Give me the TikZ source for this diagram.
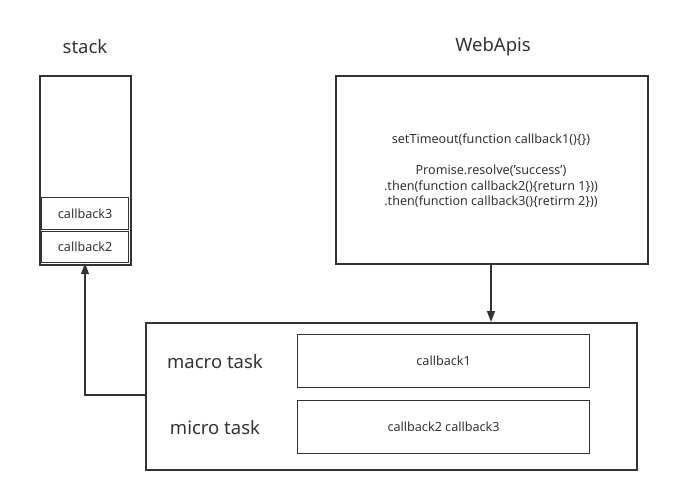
\documentclass[tikz,border=0pt]{standalone}
\usepackage{fontspec}
\setmainfont{Noto Sans}
\usetikzlibrary{arrows.meta}
\definecolor{ink}{HTML}{333333}
\begin{document}
\begin{tikzpicture}[x=1pt,y=-1pt,
  box/.style={draw=ink,line width=1.6pt,inner sep=0pt,anchor=north west},
  ibox/.style={draw=ink,line width=1.2pt,inner sep=0pt,anchor=north west},
  big/.style={text=ink,font=\fontsize{18.5}{22}\selectfont},
  small/.style={text=ink,font=\fontsize{12.6}{15.5}\selectfont},
  arr/.style={draw=ink,line width=1.4pt,-{Triangle[length=11pt,width=8pt]}}]
\useasboundingbox (0,0) rectangle (675,493);
% stack
\node[big] (stacklbl) at (85,47) {stack};
\node[box,minimum width=91pt,minimum height=189pt] (stack) at (39,75) {};
\node[ibox,minimum width=87pt,minimum height=32pt,small] (cb3) at (41,197) {callback3};
\node[ibox,minimum width=87pt,minimum height=31pt,small] (cb2) at (41,231) {callback2};
% webapis
\node[big] (weblbl) at (493,47) {WebApis};
\node[box,minimum width=312pt,minimum height=188pt] (web) at (335,75) {};
\node[small,align=center] (webtxt) at (491,171) {setTimeout(function callback1()\{\})\\[15.5pt]Promise.resolve('success')\\.then(function callback2()\{return 1\}))\\.then(function callback3()\{retirm 2\}))};
% queue
\node[box,minimum width=491pt,minimum height=147pt] (queue) at (145,322) {};
\node[big] (macrolbl) at (215,362) {macro task};
\node[big] (microlbl) at (215,428) {micro task};
\node[ibox,minimum width=292pt,minimum height=53pt,small] (macro) at (297,334) {callback1};
\node[ibox,minimum width=292pt,minimum height=53pt,small] (micro) at (297,400) {callback2 callback3};
% connectors
\coordinate (qleft) at (145,395);
\coordinate (bend) at (85,395);
\draw[arr] (qleft) -- (bend) -- (cb2.south -| bend);
\draw[arr] (web.south -| 491,0) -- (queue.north -| 491,0);
\end{tikzpicture}
\end{document}
